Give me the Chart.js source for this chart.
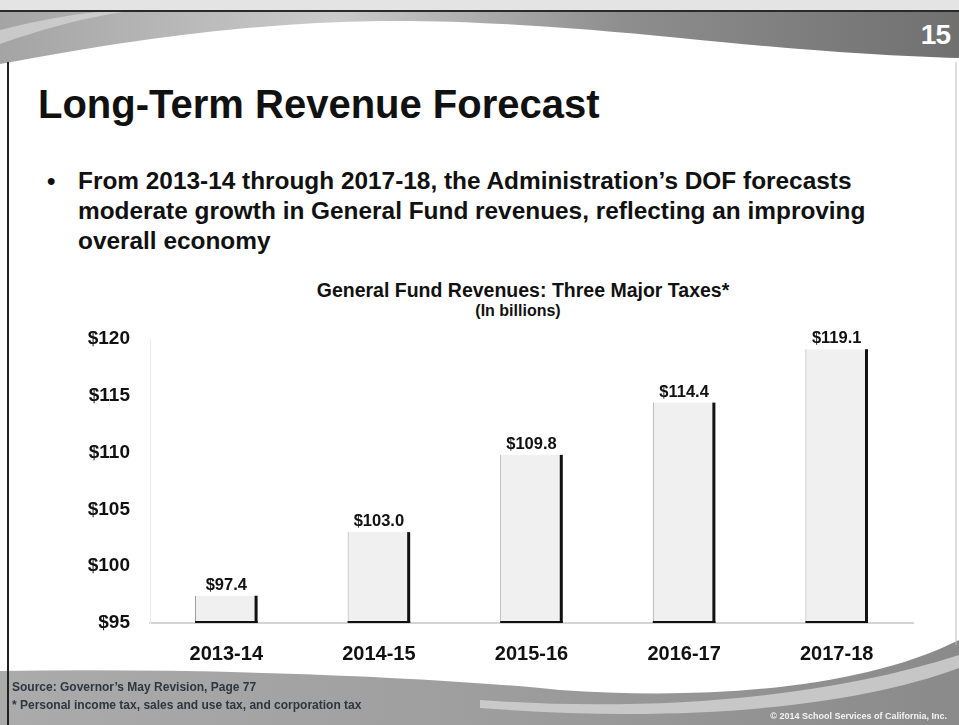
<!DOCTYPE html>
<html>
<head>
<meta charset="utf-8">
<script src="https://cdn.jsdelivr.net/npm/chart.js@4.4.0/dist/chart.umd.min.js"></script>
<style>
  html, body { margin: 0; padding: 0; background: #fff; }
  #page { position: relative; width: 959px; height: 725px; overflow: hidden; background: #fff;
    font-family: "Liberation Sans", Arial, sans-serif; }
  #deco { position: absolute; left: 0; top: 0; }
  #chartBox { position: absolute; left: 0; top: 0; width: 959px; height: 725px; }
  .txt { position: absolute; white-space: nowrap; color: #111; font-weight: bold; }
  #slideNum { right: 9px; top: 19px; font-size: 28px; color: #fff; letter-spacing: -1px; }
  #title { left: 38px; top: 82px; font-size: 40px; }
  #bullet { left: 47px; top: 166px; font-size: 24px; line-height: 30px; }
  #bulletText { left: 78px; top: 166px; font-size: 24.4px; line-height: 30px; }
  #chartTitle { left: 0; width: 1046px; text-align: center; top: 279px; font-size: 19.5px; }
  #chartSub { left: 0; width: 1036px; text-align: center; top: 302px; font-size: 16px; }
  #src { left: 12px; top: 680px; font-size: 12px; color: #2e3640; }
  #note { left: 12px; top: 698px; font-size: 12px; color: #2e3640; }
  #copy { right: 12px; top: 711px; font-size: 9px; color: #f4f4f4; }
</style>
</head>
<body>
<div id="page">
  <svg id="deco" width="959" height="725">
    <defs>
      <linearGradient id="hdr" x1="0" y1="0" x2="1" y2="0">
        <stop offset="0" stop-color="#a4a4a4"/>
        <stop offset="0.35" stop-color="#cacaca"/>
        <stop offset="0.65" stop-color="#8e8e8e"/>
        <stop offset="1" stop-color="#707070"/>
      </linearGradient>
      <linearGradient id="ftr" x1="0" y1="0" x2="1" y2="0">
        <stop offset="0" stop-color="#ababab"/>
        <stop offset="0.5" stop-color="#9e9e9e"/>
        <stop offset="1" stop-color="#8a8a8a"/>
      </linearGradient>
    </defs>
    <rect x="0" y="0" width="959" height="11" fill="#e4e4e4"/>
    <path d="M0 11 L959 11 L959 58 C880 56 800 50 680 38 C560 26 460 20 380 21 C260 23 150 36 0 64 Z" fill="url(#hdr)"/>
    <path d="M0 30 C40 20 70 14 110 11 L130 11 C80 18 40 30 0 44 Z" fill="#d8d8d8" opacity="0.7"/>
    <line x1="0" y1="11" x2="959" y2="11" stroke="#2a2a2a" stroke-width="2"/>
    <path d="M0 671 C200 668 420 676 560 690 C700 700 860 690 959 640 L959 725 L0 725 Z" fill="url(#ftr)"/>
    <path d="M480 700 C640 712 820 700 959 655 L959 668 C840 712 660 722 480 708 Z" fill="#d4d4d4" opacity="0.8"/>
    <line x1="8" y1="62" x2="8" y2="725" stroke="#222" stroke-width="2"/>
    <line x1="956" y1="62" x2="956" y2="645" stroke="#bbb" stroke-width="1"/>
  </svg>

  <div class="txt" id="slideNum">15</div>
  <div class="txt" id="title">Long-Term Revenue Forecast</div>
  <div class="txt" id="bullet">•</div>
  <div class="txt" id="bulletText">From 2013-14 through 2017-18, the Administration’s DOF forecasts<br>moderate growth in General Fund revenues, reflecting an improving<br>overall economy</div>
  <div class="txt" id="chartTitle">General Fund Revenues: Three Major Taxes*</div>
  <div class="txt" id="chartSub">(In billions)</div>

  <div id="chartBox"><canvas id="revChart"></canvas></div>

  <div class="txt" id="src">Source: Governor’s May Revision, Page 77</div>
  <div class="txt" id="note">* Personal income tax, sales and use tax, and corporation tax</div>
  <div class="txt" id="copy">© 2014 School Services of California, Inc.</div>
</div>

<script>
// Data
const years = ['2013-14', '2014-15', '2015-16', '2016-17', '2017-18'];
const revenues = [97.4, 103.0, 109.8, 114.4, 119.1];
const yTicks = [95, 100, 105, 110, 115, 120];

const FONT = '"Liberation Sans", Arial, sans-serif';

// Dark right edge, bottom edge and value labels above the bars
const barDecor = {
  id: 'barDecor',
  afterDatasetsDraw(chart) {
    const c = chart.ctx;
    const bottom = chart.chartArea.bottom;
    const meta = chart.getDatasetMeta(0);
    c.save();
    meta.data.forEach((bar, i) => {
      const p = bar.getProps(['x', 'y', 'width'], true);
      const left = p.x - p.width / 2;
      const right = p.x + p.width / 2;
      c.fillStyle = '#111';
      c.fillRect(right - 3, p.y, 3, bottom - p.y);
      c.fillRect(left, bottom - 2, p.width, 2);
      c.font = 'bold 16.5px ' + FONT;
      c.textAlign = 'center';
      c.textBaseline = 'alphabetic';
      c.fillText('$' + revenues[i].toFixed(1), p.x, p.y - 6);
    });
    c.restore();
  }
};

const ctx = document.getElementById('revChart').getContext('2d');
new Chart(ctx, {
  type: 'bar',
  data: {
    labels: years,
    datasets: [{
      data: revenues,
      backgroundColor: '#f0f0f0',
      borderColor: '#a0a0a0',
      borderWidth: { left: 1, top: 0, right: 0, bottom: 0 },
      borderSkipped: false,
      barPercentage: 0.41,
      categoryPercentage: 1.0
    }]
  },
  options: {
    responsive: true,
    maintainAspectRatio: false,
    animation: false,
    layout: { padding: { top: 339, left: 0, right: 46, bottom: 0 } },
    plugins: { legend: { display: false }, tooltip: { enabled: false } },
    scales: {
      x: {
        grid: { display: false, drawTicks: false },
        border: { color: '#d4d4d4', width: 2 },
        ticks: { color: '#111', padding: 19, font: { family: FONT, size: 20, weight: 'bold' } },
        afterFit(scale) { scale.height = 102; }
      },
      y: {
        min: 95,
        max: 120,
        afterBuildTicks(scale) { scale.ticks = yTicks.map(v => ({ value: v })); },
        grid: { display: false, drawTicks: false },
        border: { color: '#ececec', width: 1 },
        ticks: {
          color: '#111',
          padding: 20,
          font: { family: FONT, size: 19, weight: 'bold' },
          callback: v => '$' + v
        },
        afterFit(scale) { scale.width = 150; }
      }
    }
  },
  plugins: [barDecor]
});
</script>
</body>
</html>
